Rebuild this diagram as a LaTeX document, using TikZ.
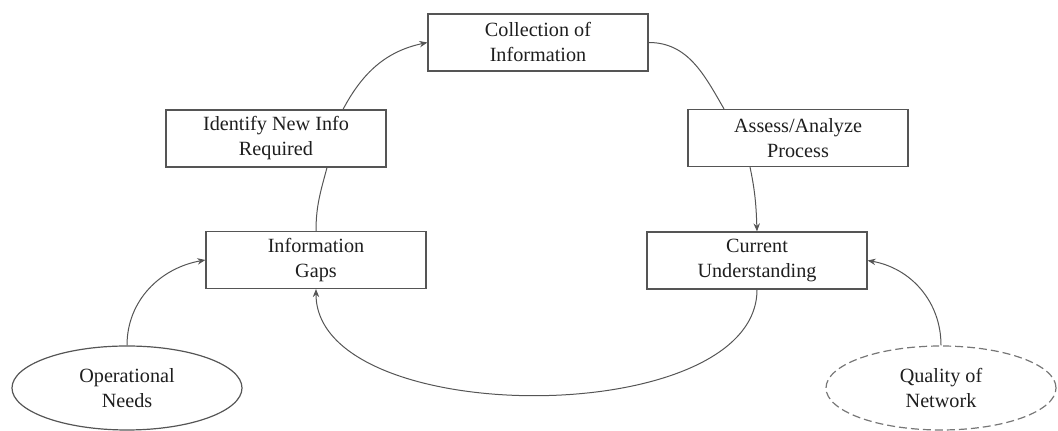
\documentclass[tikz,border=0pt]{standalone}
\usepackage{fontspec}
\setmainfont{LiberationSerif}[Extension=.ttf,UprightFont=*-Regular]
\usetikzlibrary{shapes.geometric,arrows.meta}
\definecolor{edgegray}{HTML}{555555}
\definecolor{inkgray}{HTML}{1E1E1E}

\begin{document}
\begin{tikzpicture}[x=0.5pt,y=0.5pt,
  box/.style={draw=edgegray,line width=0.6pt,minimum width=110pt,minimum height=28.5pt,
    inner sep=0pt,align=center,text=inkgray,font=\rmfamily\fontsize{10.1}{12.5}\selectfont},
  oval/.style={box,ellipse,minimum width=115pt,minimum height=42pt},
  link/.style={draw=edgegray,line width=0.5pt},
  arrowed/.style={-{Stealth[length=4pt,width=3.2pt]}}]
\useasboundingbox (0,0) rectangle (1058,431);

% Cycle boxes
\node[box] (coll) at (538,388.5) {Collection of\\Information};
\node[box] (ident) at (276,292.5) {Identify New Info\\Required};
\node[box] (assess) at (798,293) {Assess/Analyze\\Process};
\node[box] (gaps) at (316,171) {Information\\Gaps};
\node[box] (cur) at (757,170.5) {Current\\Understanding};

% Inputs
\node[oval] (ops) at (127,43) {Operational\\Needs};
\node[oval,draw=edgegray!80,dash pattern=on 4pt off 2pt] (qual) at (941,43) {Quality of\\Network};

% Cycle
\draw[link,arrowed] ([xshift=33.5pt]ident.north) to[out=62,in=192] (coll.west);
\draw[link] (coll.east) to[out=0,in=120] ([xshift=-37pt]assess.north);
\draw[link,arrowed] ([xshift=-24pt]assess.south) to[out=-78,in=92] (cur.north);
\draw[link,arrowed] (cur.south) .. controls +(0,-141) and +(0,-141) .. (gaps.south);
\draw[link] (gaps.north) to[out=90,in=-105] ([xshift=25.5pt]ident.south);

% Inputs into the cycle
\draw[link,arrowed] (ops.north) to[out=90,in=190] (gaps.west);
\draw[link,arrowed] (qual.north) to[out=90,in=-10] (cur.east);
\end{tikzpicture}
\end{document}
